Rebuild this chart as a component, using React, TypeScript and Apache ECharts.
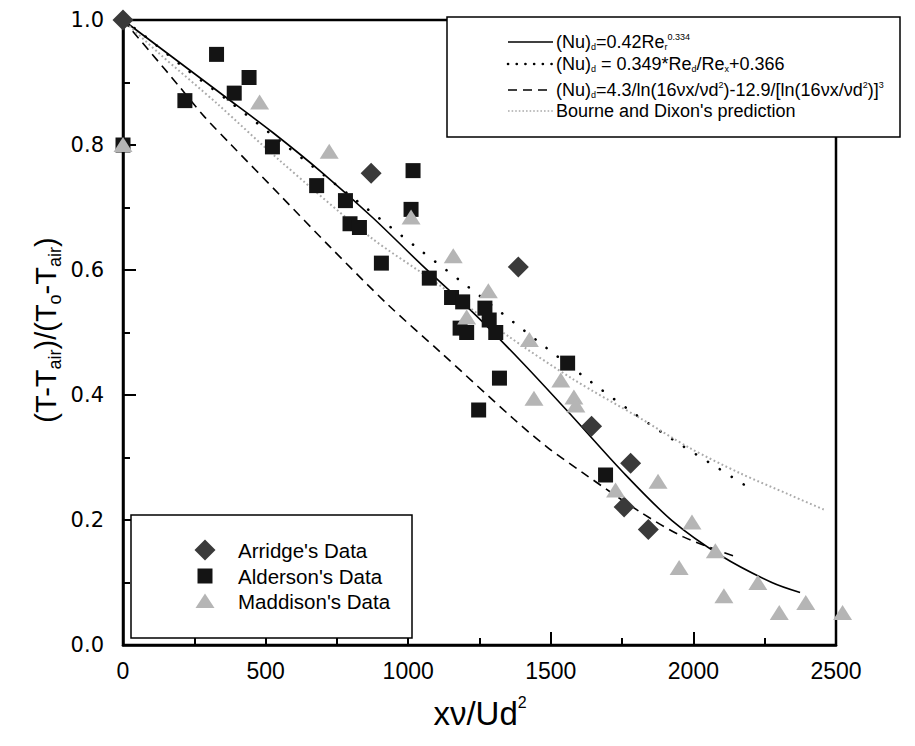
import React, { useEffect, useRef } from 'react';
import * as echarts from 'echarts';

// ---------- data ----------
const arridgeX = [0, 870, 1386, 1643, 1780, 1757, 1842];
const arridgeY = [1.0, 0.755, 0.605, 0.350, 0.291, 0.221, 0.185];

const aldersonX = [0, 217, 328, 390, 442, 524, 679, 780, 796, 829, 906, 1010, 1017, 1074, 1152, 1182, 1191, 1205, 1247, 1269, 1284, 1307, 1320, 1559, 1692];
const aldersonY = [0.8, 0.871, 0.945, 0.883, 0.908, 0.797, 0.735, 0.711, 0.674, 0.668, 0.611, 0.697, 0.759, 0.587, 0.556, 0.507, 0.549, 0.500, 0.376, 0.539, 0.520, 0.500, 0.427, 0.451, 0.272];

const maddisonX = [0, 479, 723, 1010, 1158, 1205, 1281, 1425, 1441, 1535, 1581, 1588, 1727, 1876, 1950, 1995, 2077, 2107, 2226, 2301, 2394, 2523];
const maddisonY = [0.801, 0.869, 0.790, 0.685, 0.623, 0.525, 0.567, 0.489, 0.395, 0.424, 0.397, 0.384, 0.248, 0.262, 0.124, 0.197, 0.151, 0.079, 0.100, 0.052, 0.068, 0.052];

const solidX = [0, 175, 350, 525, 700, 875, 1050, 1225, 1400, 1575, 1750, 1925, 2100, 2275, 2374];
const solidY = [1.0, 0.940, 0.880, 0.820, 0.755, 0.684, 0.607, 0.533, 0.452, 0.366, 0.278, 0.199, 0.142, 0.100, 0.084];

const dottedX = [0, 58, 211, 366, 568, 822, 1030, 1182, 1334, 1480, 1629, 1781, 1930, 2076, 2193];
const dottedY = [1.0, 0.981, 0.925, 0.872, 0.800, 0.710, 0.636, 0.583, 0.529, 0.477, 0.425, 0.374, 0.328, 0.286, 0.252];

const dashedX = [0, 99, 193, 286, 380, 550, 726, 930, 1112, 1369, 1486, 1614, 1813, 1965, 2157];
const dashedY = [1.0, 0.947, 0.896, 0.845, 0.800, 0.720, 0.637, 0.544, 0.469, 0.362, 0.317, 0.275, 0.213, 0.173, 0.140];

const bourneX = [0, 123, 333, 550, 866, 1100, 1345, 1579, 1813, 1988, 2163, 2339, 2461];
const bourneY = [1.0, 0.948, 0.865, 0.775, 0.653, 0.579, 0.496, 0.425, 0.363, 0.315, 0.275, 0.240, 0.216];

const xTicks = { min: 0, max: 2500, interval: 500 };
const yTicks = { min: 0, max: 1.0, interval: 0.2 };

const scatterNames = ["Arridge's Data", "Alderson's Data", "Maddison's Data"];

const zip = (xs: number[], ys: number[]) => xs.map((x, i) => [x, ys[i]]);

const FONT = 'Liberation Sans, Arial, Helvetica, sans-serif';
const WIDE = 'DejaVu Sans, Verdana, sans-serif';

export default function App() {
  const ref = useRef<HTMLDivElement>(null);

  useEffect(() => {
    document.body.style.margin = '0';
    const chart = echarts.init(ref.current!, null, { renderer: 'svg' });

    const axisCommon = {
      type: 'value' as const,
      axisLine: { show: true, lineStyle: { color: '#000', width: 2.5 } },
      axisTick: { show: true, inside: true, length: 13, lineStyle: { color: '#000', width: 2 } },
      minorTick: { show: true, splitNumber: 2, length: 7, lineStyle: { color: '#000', width: 2 } },
      splitLine: { show: false },
    };

    const lineSeries = (name: string, xs: number[], ys: number[], lineStyle: any) => ({
      name,
      type: 'line',
      data: zip(xs, ys),
      showSymbol: false,
      smooth: 0.3,
      clip: false,
      lineStyle,
      z: 2,
    });

    const legendRows = [42, 64, 90, 111];
    const richLegend = {
      n: { fontSize: 18, lineHeight: 19, fontFamily: FONT },
      sub: { fontSize: 9, lineHeight: 10, verticalAlign: 'bottom', fontFamily: FONT },
      sup: { fontSize: 9, lineHeight: 10, verticalAlign: 'top', fontFamily: FONT },
    };
    const legendTexts = [
      '{n|(Nu)}{sub|d}{n|=0.42Re}{sub|r}{sup|0.334}',
      '{n|(Nu)}{sub|d}{n| = 0.349*Re}{sub|d}{n|/Re}{sub|x}{n|+0.366}',
      '{n|(Nu)}{sub|d}{n|=4.3/ln(16νx/νd}{sup|2}{n|)-12.9/[ln(16νx/νd}{sup|2}{n|)]}{sup|3}',
      '{n|Bourne and Dixon\'s prediction}',
    ];
    const legendStyles = [
      { stroke: '#000', lineWidth: 1.6 },
      { stroke: '#000', lineWidth: 2.6, lineDash: [0.1, 8.6], lineCap: 'round' },
      { stroke: '#000', lineWidth: 1.6, lineDash: [9, 6] },
      { stroke: '#aaaaaa', lineWidth: 1.6, lineDash: [1.6, 2] },
    ];

    const graphic: any[] = [
      {
        type: 'rect', z: 100,
        shape: { x: 447, y: 17, width: 453, height: 120 },
        style: { fill: '#fff', stroke: '#000', lineWidth: 1.5 },
      },
      ...legendRows.map((y, i) => ({
        type: 'line', z: 101,
        shape: { x1: 508, y1: y, x2: 553, y2: y },
        style: legendStyles[i],
      })),
      ...legendRows.map((y, i) => ({
        type: 'text', z: 101, x: 556, y,
        style: {
          text: legendTexts[i], rich: richLegend, fill: '#000',
          fontSize: 18, fontFamily: FONT,
          align: 'left', verticalAlign: 'middle', textAlign: 'left', textVerticalAlign: 'middle',
        },
      })),
      {
        type: 'rect', z: 100,
        shape: { x: 131, y: 515, width: 281, height: 123 },
        style: { fill: '#fff', stroke: '#000', lineWidth: 1.5 },
      },
      {
        type: 'polygon', z: 101,
        shape: { points: [[205, 539.5], [215.5, 550], [205, 560.5], [194.5, 550]] },
        style: { fill: '#3a3a3a' },
      },
      {
        type: 'rect', z: 101,
        shape: { x: 197.5, y: 568.5, width: 15, height: 15 },
        style: { fill: '#141414' },
      },
      {
        type: 'polygon', z: 101,
        shape: { points: [[205, 593.5], [214.5, 608], [195.5, 608]] },
        style: { fill: '#b5b5b5' },
      },
      ...[550, 576, 601].map((y, i) => ({
        type: 'text', z: 101, x: 238, y,
        style: {
          text: scatterNames[i], fill: '#000', fontSize: 20.5, fontFamily: FONT,
          align: 'left', verticalAlign: 'middle', textAlign: 'left', textVerticalAlign: 'middle',
        },
      })),
      {
        type: 'text', z: 101, x: 46, y: 330, rotation: Math.PI / 2,
        style: {
          text: '{n|(T-T}{s|air}{n|)/(T}{s|o}{n|-T}{s|air}{n|)}',
          rich: {
            n: { fontSize: 29, lineHeight: 35, fontFamily: FONT },
            s: { fontSize: 18, lineHeight: 20, verticalAlign: 'bottom', fontFamily: FONT },
          },
          fill: '#000', fontSize: 29, fontFamily: FONT,
          align: 'center', verticalAlign: 'middle', textAlign: 'center', textVerticalAlign: 'middle',
        },
      },
      {
        type: 'text', z: 101, x: 480, y: 713,
        style: {
          text: '{n|xν/Ud}{p|2}',
          rich: {
            n: { fontSize: 33, lineHeight: 38, fontFamily: FONT },
            p: { fontSize: 16, lineHeight: 18, verticalAlign: 'top', fontFamily: FONT },
          },
          fill: '#000', fontSize: 33, fontFamily: FONT,
          align: 'center', verticalAlign: 'middle', textAlign: 'center', textVerticalAlign: 'middle',
        },
      },
    ];

    chart.setOption({
      animation: false,
      backgroundColor: '#fff',
      grid: {
        left: 123, top: 20, width: 713, height: 625,
        show: true, borderColor: '#000', borderWidth: 2.5, backgroundColor: 'transparent',
      },
      xAxis: {
        ...axisCommon,
        ...xTicks,
        axisLabel: {
          fontSize: 23, color: '#000', margin: 14, fontFamily: FONT,
          formatter: (v: number) => String(v),
        },
      },
      yAxis: {
        ...axisCommon,
        ...yTicks,
        axisLabel: {
          fontSize: 21, color: '#000', margin: 19, fontFamily: WIDE,
          formatter: (v: number) => v.toFixed(1),
        },
      },
      series: [
        lineSeries('(Nu)d=0.42Re', solidX, solidY, { color: '#000', width: 1.6, type: 'solid' }),
        lineSeries('(Nu)d = 0.349*Red/Rex+0.366', dottedX, dottedY, { color: '#000', width: 2.6, type: [0.1, 14], cap: 'round' }),
        lineSeries('(Nu)d=4.3/ln', dashedX, dashedY, { color: '#000', width: 1.6, type: [9, 6] }),
        lineSeries("Bourne and Dixon's prediction", bourneX, bourneY, { color: '#aaaaaa', width: 2, type: [1.8, 2.6] }),
        {
          name: scatterNames[0], type: 'scatter', data: zip(arridgeX, arridgeY),
          symbol: 'diamond', symbolSize: [21, 21], itemStyle: { color: '#3a3a3a', opacity: 1 }, clip: false, z: 3,
        },
        {
          name: scatterNames[1], type: 'scatter', data: zip(aldersonX, aldersonY),
          symbol: 'rect', symbolSize: 15, itemStyle: { color: '#141414', opacity: 1 }, clip: false, z: 3,
        },
        {
          name: scatterNames[2], type: 'scatter', data: zip(maddisonX, maddisonY),
          symbol: 'triangle', symbolSize: [19, 15], itemStyle: { color: '#b5b5b5', opacity: 1 }, clip: false, z: 3,
        },
      ],
      graphic,
    });

    return () => chart.dispose();
  }, []);

  return <div ref={ref} style={{ width: 915, height: 746 }} />;
}
